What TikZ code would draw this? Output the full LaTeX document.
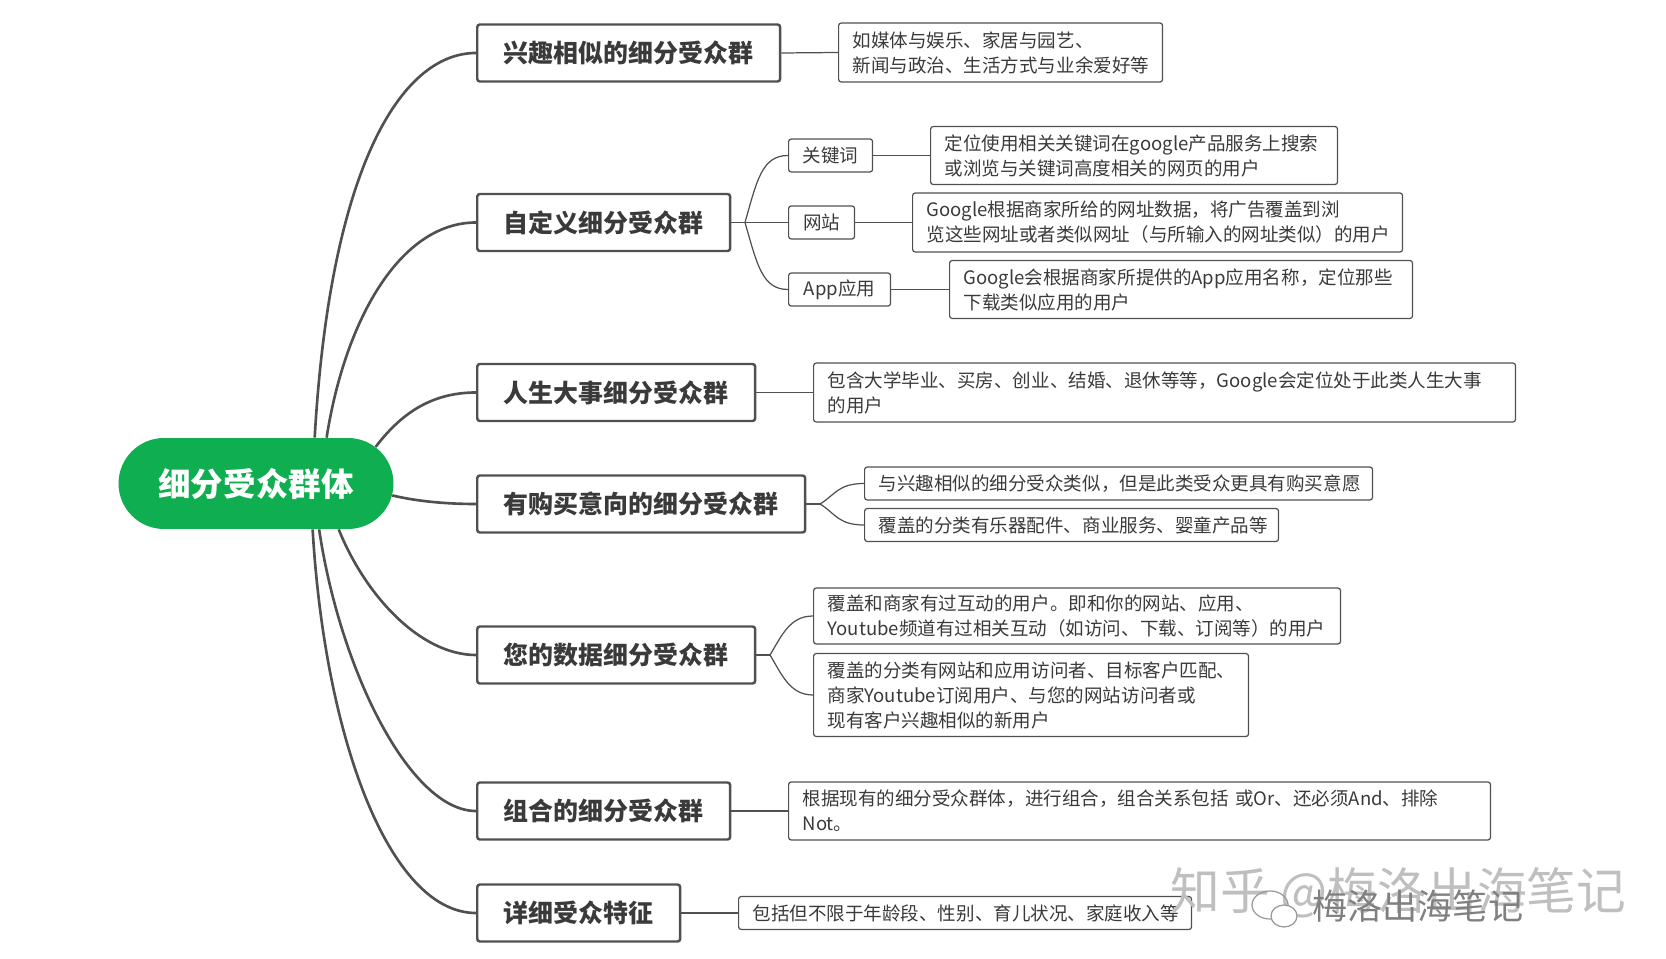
\documentclass[tikz,border=0pt]{standalone}
\usepackage{fontspec}
\setmainfont{Noto Sans CJK SC}
\usetikzlibrary{shapes.misc}
\definecolor{rootgreen}{HTML}{0FAE50}
\definecolor{inkgray}{HTML}{3A3A3A}
\definecolor{linegray}{HTML}{505050}
\begin{document}
\begin{tikzpicture}[x=0.02cm,y=-0.02cm,%
cat/.style={rectangle, draw=linegray, line width=1.4pt, rounded corners=1.5pt, anchor=west,
inner sep=0pt, minimum height=1.14cm, text=inkgray, font=\fontsize{14.2}{17}\selectfont\bfseries},
tag/.style={rectangle, draw=linegray, line width=0.7pt, rounded corners=1.5pt, anchor=west,
inner sep=0pt, minimum height=0.66cm, text=inkgray, font=\fontsize{10.55}{14.2}\selectfont},
note/.style={tag, inner xsep=0.28cm, align=left},
trunk/.style={draw=linegray, line width=1.5pt},
twig/.style={draw=linegray, line width=0.7pt}]
\useasboundingbox (0,0) rectangle (1666,959);
\node (root) at (256,483.5) [rounded rectangle, fill=rootgreen, text=white, inner sep=0pt,
minimum width=5.5cm, minimum height=1.82cm, font=\fontsize{18.5}{22}\selectfont\bfseries] {细分受众群体};
\node (interest) at (476,53) [cat, minimum width=6.06cm] {兴趣相似的细分受众群};
\node (custom) at (476,222.5) [cat, minimum width=5.06cm] {自定义细分受众群};
\node (life) at (476,392.5) [cat, minimum width=5.56cm] {人生大事细分受众群};
\node (intent) at (476,504) [cat, minimum width=6.56cm] {有购买意向的细分受众群};
\node (yourdata) at (476,655) [cat, minimum width=5.56cm] {您的数据细分受众群};
\node (combo) at (476,811) [cat, minimum width=5.06cm] {组合的细分受众群};
\node (detail) at (476,913) [cat, minimum width=4.06cm] {详细受众特征};
\node (keyword) at (788,155.5) [tag, minimum width=1.68cm] {关键词};
\node (website) at (788,222.5) [tag, minimum width=1.32cm] {网站};
\node (appuse) at (788,289.5) [tag, minimum width=2.04cm] {App应用};
\node (interestN) at (838,52.5) [note, text width=5.92cm, minimum height=1.18cm]
{如媒体与娱乐、家居与园艺、\\新闻与政治、生活方式与业余爱好等};
\node (keywordN) at (930,155.5) [note, text width=7.58cm, minimum height=1.16cm]
{定位使用相关关键词在google产品服务上搜索\\或浏览与关键词高度相关的网页的用户};
\node (websiteN) at (912,222.5) [note, text width=9.24cm, minimum height=1.18cm]
{Google根据商家所给的网址数据，将广告覆盖到浏\\览这些网址或者类似网址（与所输入的网址类似）的用户};
\node (appuseN) at (949,289.5) [note, text width=8.7cm, minimum height=1.16cm]
{Google会根据商家所提供的App应用名称，定位那些\\下载类似应用的用户};
\node (lifeN) at (813,392.5) [note, text width=13.48cm, minimum height=1.18cm]
{包含大学毕业、买房、创业、结婚、退休等等，Google会定位处于此类人生大事\\的用户};
\node (intentA) at (864,483.5) [note, text width=9.6cm] {与兴趣相似的细分受众类似，但是此类受众更具有购买意愿};
\node (intentB) at (864,525) [note, text width=7.72cm] {覆盖的分类有乐器配件、商业服务、婴童产品等};
\node (yourdataA) at (813,616) [note, text width=9.98cm, minimum height=1.12cm]
{覆盖和商家有过互动的用户。即和你的网站、应用、\\Youtube频道有过相关互动（如访问、下载、订阅等）的用户};
\node (yourdataB) at (813,695) [note, text width=8.14cm, minimum height=1.66cm]
{覆盖的分类有网站和应用访问者、目标客户匹配、\\商家Youtube订阅用户、与您的网站访问者或\\现有客户兴趣相似的新用户};
\node (comboN) at (788,811) [note, text width=13.48cm, minimum height=1.16cm]
{根据现有的细分受众群体，进行组合，组合关系包括 或Or、还必须And、排除\\Not。};
\node (detailN) at (738,913) [note, text width=8.5cm] {包括但不限于年龄段、性别、育儿状况、家庭收入等};
\coordinate (customFork) at (745,222.5);
\coordinate (intentFork) at (820,504);
\coordinate (yourdataFork) at (770,655);
\draw[trunk] (root.38) .. controls (330,170) and (400,53) .. (interest.west);
\draw[trunk] (root.33) .. controls (345,320) and (400,222.5) .. (custom.west);
\draw[trunk] (root.17) .. controls (400,415) and (430,392.5) .. (life.west);
\draw[trunk] (root.-5) .. controls (420,502) and (450,504) .. (intent.west);
\draw[trunk] (root.-29) .. controls (365,595) and (420,655) .. (yourdata.west);
\draw[trunk] (root.-36) .. controls (340,670) and (410,811) .. (combo.west);
\draw[trunk] (root.-39) .. controls (325,740) and (390,913) .. (detail.west);
\draw[twig] (interest.east) -- (interestN.west);
\draw[twig] (custom.east) -- (customFork) -- (website.west);
\draw[twig] (customFork) .. controls (757,180) and (762,155.5) .. (keyword.west);
\draw[twig] (customFork) .. controls (757,264) and (762,289.5) .. (appuse.west);
\draw[twig] (keyword.east) -- (keywordN.west);
\draw[twig] (website.east) -- (websiteN.west);
\draw[twig] (appuse.east) -- (appuseN.west);
\draw[twig] (life.east) -- (lifeN.west);
\draw[twig] (intent.east) -- (intentFork);
\draw[twig] (intentFork) .. controls (835,495) and (838,483.5) .. (intentA.west);
\draw[twig] (intentFork) .. controls (835,513) and (838,525) .. (intentB.west);
\draw[twig] (yourdata.east) -- (yourdataFork);
\draw[twig] (yourdataFork) .. controls (782,635) and (790,616) .. (yourdataA.west);
\draw[twig] (yourdataFork) .. controls (782,675) and (790,695) .. (yourdataB.west);
\draw[twig] (combo.east) -- (comboN.west);
\draw[twig] (detail.east) -- (detailN.west);
% watermark
\node (zhihu) at (1170,893) [anchor=west, inner sep=0pt, text=black!25, font=\fontsize{28.3}{32}\selectfont] {知乎 @梅洛出海笔记};
\node (wechat) at (1312,906) [anchor=west, inner sep=0pt, text=black!50, font=\fontsize{20}{24}\selectfont] {梅洛出海笔记};
\draw[twig, draw=black!40] (1270,905) ellipse (18 and 14);
\draw[twig, draw=black!40, fill=white] (1284,916) ellipse (13 and 11);
\end{tikzpicture}
\end{document}
